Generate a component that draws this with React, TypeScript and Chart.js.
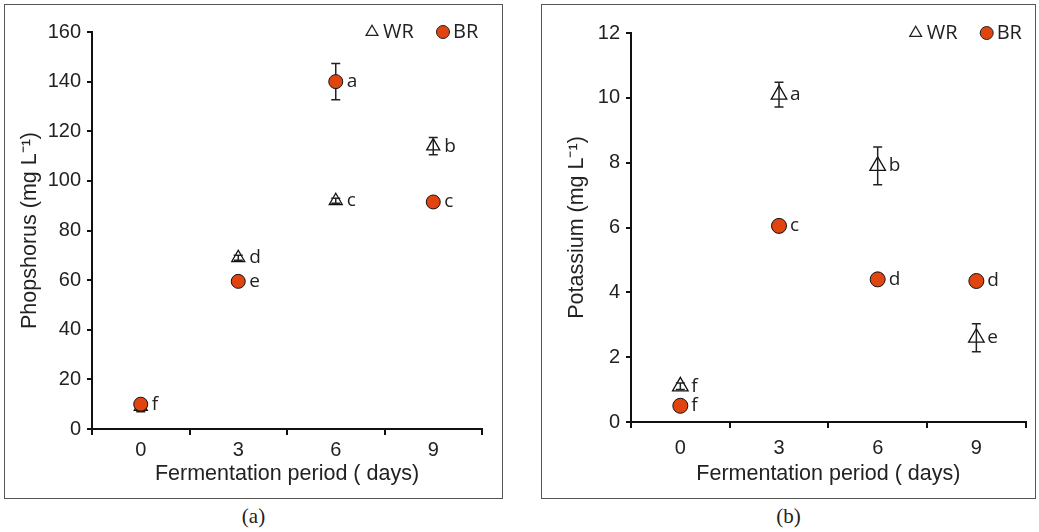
import React, { useEffect, useRef } from 'react';
import { Chart, registerables } from 'chart.js';
Chart.register(...registerables);

const days = ['0', '3', '6', '9'];

const phosWR = [9, 69, 92, 114];
const phosWRerr = [2, 1, 1, 3.5];
const phosWRletters = ['', 'd', 'c', 'b'];
const phosBR = [10, 59.5, 140, 91.5];
const phosBRerr = [1.2, 1, 7.3, 1.5];
const phosBRletters = ['f', 'e', 'a', 'c'];

const potWR = [1.1, 10.1, 7.9, 2.6];
const potWRerr = [0.1, 0.38, 0.58, 0.43];
const potWRletters = ['f', 'a', 'b', 'e'];
const potBR = [0.5, 6.05, 4.4, 4.35];
const potBRerr = [0.05, 0.12, 0.05, 0.05];
const potBRletters = ['f', 'c', 'd', 'd'];

const ORANGE = '#E0450F';
const INK = '#222';
const AXIS_FONT = "'Liberation Sans', Arial, sans-serif";
const LABEL_FONT = "'Open Sans', sans-serif";

type Spec = {
  width: number;
  height: number;
  yMax: number;
  yStep: number;
  yTitle: string;
  wr: number[];
  wrErr: number[];
  wrLetters: string[];
  br: number[];
  brErr: number[];
  brLetters: string[];
  axisW: number;
  axisH: number;
  padTop: number;
  padRight: number;
  yTitlePad: number;
  xTickPad: number;
  triR: number;
  circR: number;
};

function drawErr(chart: any, i: number) {
  const ctx = chart.ctx;
  const meta = chart.getDatasetMeta(i);
  const ys = chart.scales.y;
  const ds = chart.data.datasets[i];
  ctx.save();
  ctx.strokeStyle = INK;
  ctx.lineWidth = 1.5;
  meta.data.forEach((pt: any, j: number) => {
    const v = ds.data[j];
    const e = ds.errors[j];
    const x = pt.x;
    const y1 = ys.getPixelForValue(v + e);
    const y2 = ys.getPixelForValue(v - e);
    const cap = 4.5;
    ctx.beginPath();
    ctx.moveTo(x, y1);
    ctx.lineTo(x, y2);
    ctx.moveTo(x - cap, y1);
    ctx.lineTo(x + cap, y1);
    ctx.moveTo(x - cap, y2);
    ctx.lineTo(x + cap, y2);
    ctx.stroke();
  });
  ctx.restore();
}

function makeChart(canvas: HTMLCanvasElement, s: Spec) {
  const plugin = {
    id: 'extras',
    afterDatasetDraw(chart: any, args: any) {
      if (args.index === 1) drawErr(chart, 1);
    },
    beforeDatasetDraw(chart: any, args: any) {
      if (args.index === 0) drawErr(chart, 0);
    },
    afterDatasetsDraw(chart: any) {
      const ctx = chart.ctx;
      ctx.save();
      ctx.fillStyle = INK;
      ctx.font = `19px ${LABEL_FONT}`;
      ctx.textAlign = 'left';
      ctx.textBaseline = 'middle';
      [0, 1].forEach((i) => {
        const meta = chart.getDatasetMeta(i);
        const ds = chart.data.datasets[i];
        meta.data.forEach((pt: any, j: number) => {
          const t = ds.letters[j];
          if (t) ctx.fillText(t, pt.x + 11, pt.y);
        });
      });
      // legend
      const { right, top } = chart.chartArea;
      const ly = top;
      ctx.font = `20px ${LABEL_FONT}`;
      ctx.lineWidth = 1.3;
      ctx.strokeStyle = INK;
      const tx = right - 110;
      const r = 6.8;
      ctx.beginPath();
      ctx.moveTo(tx, ly - r);
      ctx.lineTo(tx + r * 0.866, ly + r * 0.5);
      ctx.lineTo(tx - r * 0.866, ly + r * 0.5);
      ctx.closePath();
      ctx.stroke();
      ctx.fillText('WR', right - 99, ly);
      ctx.beginPath();
      ctx.arc(right - 39, ly, 6.5, 0, Math.PI * 2);
      ctx.fillStyle = ORANGE;
      ctx.fill();
      ctx.lineWidth = 1;
      ctx.stroke();
      ctx.fillStyle = INK;
      ctx.fillText('BR', right - 29, ly);
      ctx.restore();
    },
  };

  return new Chart(canvas, {
    type: 'line',
    data: {
      labels: days,
      datasets: [
        {
          label: 'BR',
          data: s.br,
          errors: s.brErr,
          letters: s.brLetters,
          showLine: false,
          pointStyle: 'circle',
          pointRadius: s.circR,
          pointHoverRadius: s.circR,
          pointBackgroundColor: ORANGE,
          pointBorderColor: '#111',
          pointBorderWidth: 1,
        } as any,
        {
          label: 'WR',
          data: s.wr,
          errors: s.wrErr,
          letters: s.wrLetters,
          showLine: false,
          pointStyle: 'triangle',
          pointRadius: s.triR,
          pointHoverRadius: s.triR,
          pointBackgroundColor: '#fff',
          pointBorderColor: '#111',
          pointBorderWidth: 1.3,
        } as any,
      ],
    },
    options: {
      responsive: false,
      animation: false,
      events: [],
      layout: { padding: { top: s.padTop, right: s.padRight, left: 0, bottom: 0 } },
      plugins: { legend: { display: false }, tooltip: { enabled: false } },
      scales: {
        x: {
          type: 'category',
          offset: true,
          grid: {
            offset: true,
            drawOnChartArea: false,
            drawTicks: true,
            tickLength: 6,
            color: '#111',
            lineWidth: 2,
          },
          border: { display: true, color: '#111', width: 2 },
          ticks: {
            color: INK,
            font: { family: AXIS_FONT, size: 20 },
            padding: s.xTickPad,
            maxRotation: 0,
          },
          title: {
            display: true,
            text: 'Fermentation period ( days)',
            color: INK,
            font: { family: AXIS_FONT, size: 21.5 },
            padding: { top: 0, bottom: 12 },
          },
          afterFit: (sc: any) => {
            sc.height = s.axisH;
          },
        },
        y: {
          min: 0,
          max: s.yMax,
          grid: {
            drawOnChartArea: false,
            drawTicks: true,
            tickLength: 5,
            color: '#111',
            lineWidth: 2,
          },
          border: { display: true, color: '#111', width: 2 },
          ticks: {
            stepSize: s.yStep,
            color: INK,
            font: { family: AXIS_FONT, size: 20 },
            padding: 6,
          },
          title: {
            display: true,
            text: s.yTitle,
            color: INK,
            font: { family: AXIS_FONT, size: 21.5 },
            padding: { top: s.yTitlePad, bottom: 0 },
          },
          afterFit: (sc: any) => {
            sc.width = s.axisW;
          },
        },
      },
    } as any,
    plugins: [plugin],
  });
}

function Panel(props: { spec: Spec; left: number; caption: string }) {
  const ref = useRef<HTMLCanvasElement>(null);
  const { spec, left, caption } = props;
  useEffect(() => {
    if (!ref.current) return;
    const c = makeChart(ref.current, spec);
    return () => c.destroy();
  }, []);
  return (
    <>
      <div
        style={{
          position: 'absolute',
          left,
          top: 4,
          width: spec.width,
          height: spec.height,
          border: '1.5px solid #555',
          boxSizing: 'border-box',
        }}
      />
      <canvas
        ref={ref}
        width={spec.width}
        height={spec.height}
        style={{ position: 'absolute', left, top: 4, width: spec.width, height: spec.height }}
      />
      <div
        style={{
          position: 'absolute',
          left,
          width: spec.width,
          top: 504,
          textAlign: 'center',
          fontFamily: "'Liberation Serif', 'Times New Roman', serif",
          fontSize: 21,
          color: '#222',
        }}
      >
        {caption}
      </div>
    </>
  );
}

const phosSpec: Spec = {
  width: 499,
  height: 495,
  yMax: 160,
  yStep: 20,
  yTitle: 'Phopshorus (mg L⁻¹)',
  wr: phosWR,
  wrErr: phosWRerr,
  wrLetters: phosWRletters,
  br: phosBR,
  brErr: phosBRerr,
  brLetters: phosBRletters,
  axisW: 88,
  axisH: 70,
  padTop: 28,
  padRight: 21,
  yTitlePad: 13,
  xTickPad: 3,
  triR: 7.5,
  circR: 7,
};

const potSpec: Spec = {
  width: 495,
  height: 495,
  yMax: 12,
  yStep: 2,
  yTitle: 'Potassium (mg L⁻¹)',
  wr: potWR,
  wrErr: potWRerr,
  wrLetters: potWRletters,
  br: potBR,
  brErr: potBRerr,
  brLetters: potBRletters,
  axisW: 90,
  axisH: 77,
  padTop: 29,
  padRight: 10,
  yTitlePad: 23,
  xTickPad: 8,
  triR: 9,
  circR: 7.5,
};

export default function App() {
  return (
    <div
      style={{
        position: 'fixed',
        left: 0,
        top: 0,
        width: 1039,
        height: 532,
        background: '#fff',
      }}
    >
      <Panel spec={phosSpec} left={4} caption="(a)" />
      <Panel spec={potSpec} left={541} caption="(b)" />
    </div>
  );
}
